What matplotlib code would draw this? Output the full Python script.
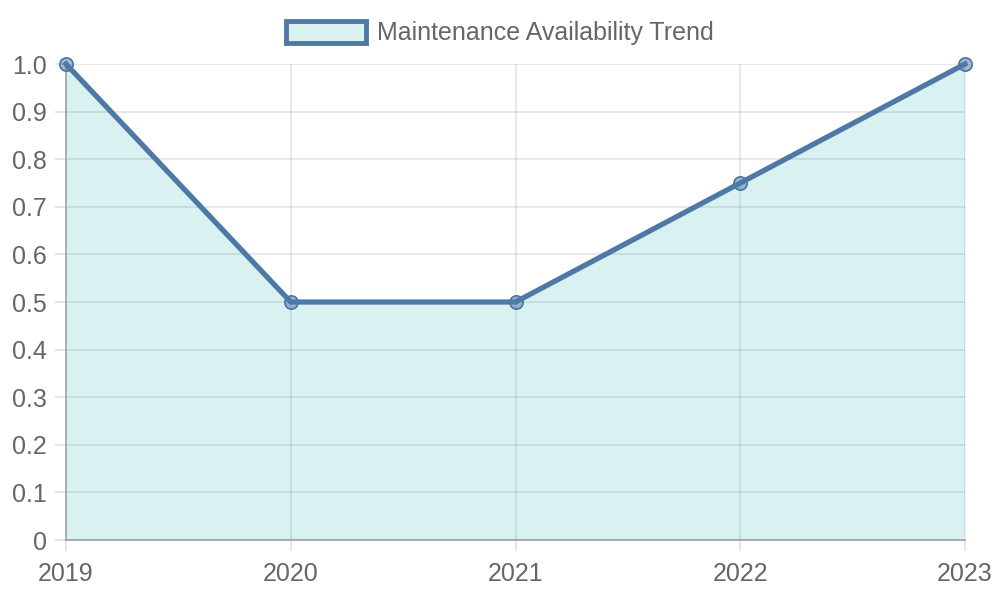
import matplotlib.pyplot as plt
from matplotlib.patches import Patch
from matplotlib.ticker import MultipleLocator, FuncFormatter

plt.rcParams['font.family'] = ['Liberation Sans', 'DejaVu Sans']

years = ['2019', '2020', '2021', '2022', '2023']
availability = [1.0, 0.5, 0.5, 0.75, 1.0]
label = 'Maintenance Availability Trend'

line_color = '#4E79A7'
fill_color = '#DAF1F2'
text_color = '#666666'

fig = plt.figure(figsize=(10, 6), dpi=100)
ax = fig.add_axes([0.066, 0.1, 0.899, 0.7933])

x = list(range(len(years)))
ax.fill_between(x, availability, 0, color=fill_color, zorder=0.3, linewidth=0)
ax.plot(x, availability, color=line_color, linewidth=3.8, zorder=3,
        solid_joinstyle='miter', clip_on=False)
ax.plot(x, availability, linestyle='none', marker='o', markersize=9.5,
        markerfacecolor=(78/255, 121/255, 167/255, 0.5),
        markeredgecolor=line_color, markeredgewidth=1.3, zorder=4, clip_on=False)

ax.set_xlim(0, len(years) - 1)
ax.set_ylim(0, 1.0)
ax.set_xticks(x)
ax.set_xticklabels(years)
ax.yaxis.set_major_locator(MultipleLocator(0.1))
ax.yaxis.set_major_formatter(FuncFormatter(lambda v, p: '0' if abs(v) < 1e-9 else f'{v:.1f}'))

ax.set_axisbelow(True)
ax.grid(True)
ax.tick_params(axis='both', which='major', color='#e0e0e0', length=8, width=1.2,
               labelcolor=text_color, labelsize=18, pad=6,
               grid_color='black', grid_alpha=0.1, grid_linewidth=1.2)
ax.tick_params(axis='x', pad=8)
for s in ['top', 'right']:
    ax.spines[s].set_visible(False)
for s in ['left', 'bottom']:
    ax.spines[s].set_color('#a0a0a0')
    ax.spines[s].set_linewidth(1.2)

handle = Patch(facecolor=fill_color, edgecolor=line_color, linewidth=3.5)
leg = fig.legend([handle], [label], loc='center', bbox_to_anchor=(0.5, 0.945),
                 frameon=False, fontsize=18, handlelength=3.2, handleheight=1.0,
                 handletextpad=0.45, labelcolor=text_color)

fig.savefig('out.png', dpi=100)
